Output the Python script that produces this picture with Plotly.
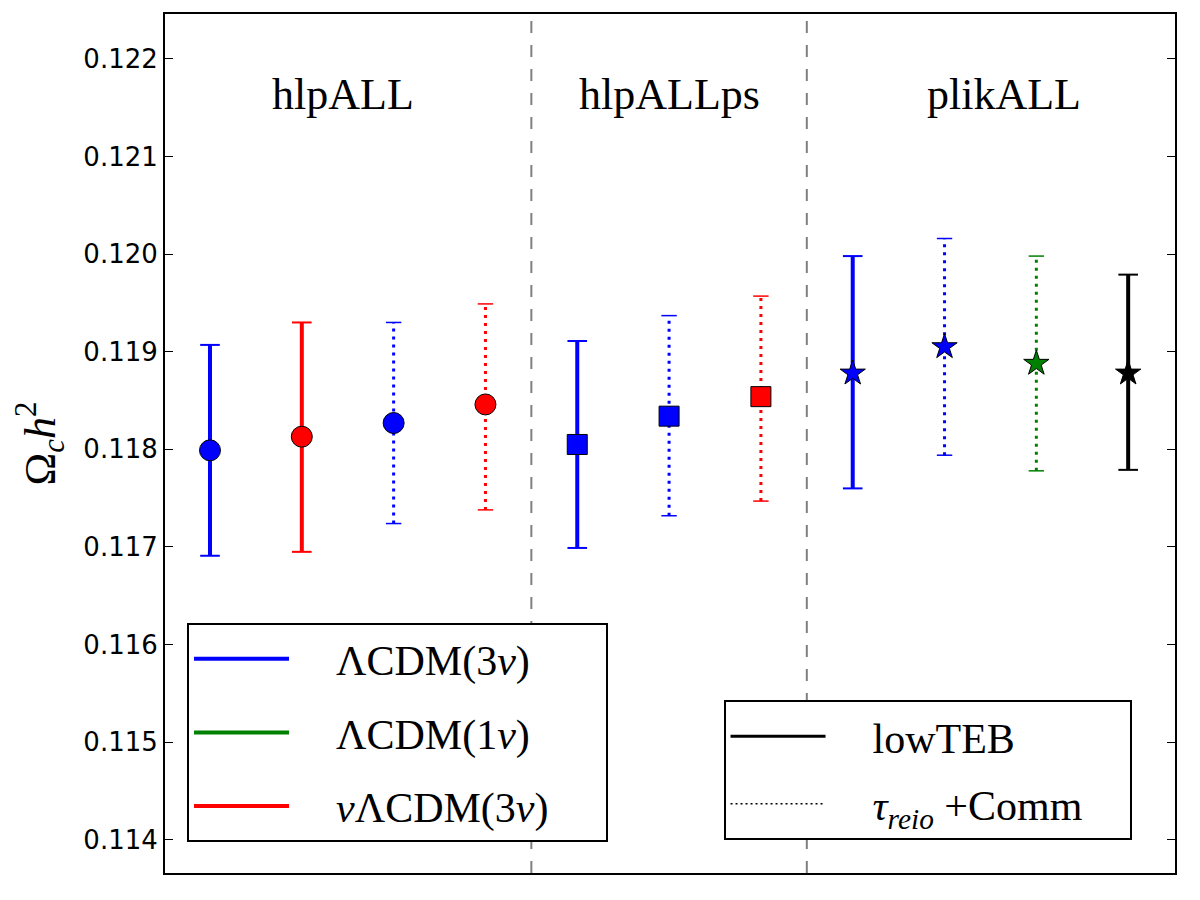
import plotly.graph_objects as go

# ---------------- data ----------------
x_pos = [0, 1, 2, 3, 4, 5, 6, 7, 8, 9, 10]
centers = [0.11799, 0.11813, 0.11827, 0.11846, 0.11805, 0.11834, 0.11854,
           0.11878, 0.11905, 0.11888, 0.11878]
upper = [0.11907, 0.11930, 0.11930, 0.11949, 0.11911, 0.11937, 0.11957,
         0.11998, 0.12016, 0.11998, 0.11979]
lower = [0.11691, 0.11695, 0.11724, 0.11738, 0.11699, 0.11732, 0.11747,
         0.11760, 0.11794, 0.11778, 0.11779]
colors = ["#0000ff", "#ff0000", "#0000ff", "#ff0000", "#0000ff", "#0000ff", "#ff0000",
          "#0000ff", "#0000ff", "#008000", "#000000"]
symbols = ["circle", "circle", "circle", "circle", "square", "square", "square",
           "star", "star", "star", "star"]
styles = ["solid", "solid", "dot", "dot", "solid", "dot", "dot",
          "solid", "dot", "dot", "solid"]

group_names = ["hlpALL", "hlpALLps", "plikALL"]
group_label_x = [1.45, 5.0, 8.65]
group_label_y = 0.12164
separators = [3.5, 6.5]

model_labels = ["ΛCDM(3<i>ν</i>)", "ΛCDM(1<i>ν</i>)", "<i>ν</i>ΛCDM(3<i>ν</i>)"]
model_colors = ["#0000ff", "#008000", "#ff0000"]
data_labels = ["lowTEB", "<i>τ<sub>reio</sub></i> +Comm"]
data_styles = ["solid", "dot"]

y_ticks = [0.114, 0.115, 0.116, 0.117, 0.118, 0.119, 0.120, 0.121, 0.122]

# ---------------- figure ----------------
fig = go.Figure()

serif = "Liberation Serif, Times New Roman, serif"
NB = "\u00a0"

for i in range(len(x_pos)):
    solid = styles[i] == "solid"
    lw = 4 if solid else 3
    dash = "solid" if solid else "3px,5px"
    # vertical error line
    fig.add_trace(go.Scatter(
        x=[x_pos[i], x_pos[i]], y=[lower[i], upper[i]], mode="lines",
        line=dict(color=colors[i], width=lw, dash=dash),
        showlegend=False, hoverinfo="skip"))
    # caps
    fig.add_trace(go.Scatter(
        x=[x_pos[i], x_pos[i]], y=[lower[i], upper[i]], mode="markers",
        marker=dict(symbol="line-ew", size=14 if solid else 11,
                    line=dict(color=colors[i], width=2 if solid else 1.5)),
        showlegend=False, hoverinfo="skip"))
    # central marker
    msize = {"circle": 21, "square": 20, "star": 19}[symbols[i]]
    fig.add_trace(go.Scatter(
        x=[x_pos[i]], y=[centers[i]], mode="markers",
        marker=dict(symbol=symbols[i], size=msize, color=colors[i],
                    line=dict(color="black", width=1)),
        showlegend=False))

# legend 1: models
for lab, col in zip(model_labels, model_colors):
    fig.add_trace(go.Scatter(
        x=[None], y=[None], mode="lines", name=NB * 4 + lab + NB * 5,
        line=dict(color=col, width=4), legend="legend", legendgroup=lab))

# legend 2: data sets
for lab, st in zip(data_labels, data_styles):
    fig.add_trace(go.Scatter(
        x=[None], y=[None], mode="lines", name=NB * 4 + lab + NB * 4,
        line=dict(color="black", width=3 if st == "solid" else 1.5,
                  dash="solid" if st == "solid" else "2px,3px"),
        legend="legend2", legendgroup=lab))

for s in separators:
    fig.add_vline(x=s, line=dict(color="#808080", width=2, dash="12px,12px"))

for name, gx in zip(group_names, group_label_x):
    fig.add_annotation(x=gx, y=group_label_y, text=name, showarrow=False,
                       font=dict(family=serif, size=44, color="black"),
                       xanchor="center", yanchor="middle")

fig.update_layout(
    width=1200, height=900,
    margin=dict(l=165, r=25, t=12, b=27),
    paper_bgcolor="white", plot_bgcolor="white",
    showlegend=True,
    legend=dict(x=0.0218, y=0.291, xanchor="left", yanchor="top",
                bgcolor="white", bordercolor="black", borderwidth=2,
                font=dict(family=serif, size=42, color="black"),
                traceorder="grouped", tracegroupgap=16, itemwidth=95),
    legend2=dict(x=0.553, y=0.201, xanchor="left", yanchor="top",
                 bgcolor="white", bordercolor="black", borderwidth=2,
                 font=dict(family=serif, size=42, color="black"),
                 traceorder="grouped", tracegroupgap=10, itemwidth=95),
    xaxis=dict(range=[-0.49, 10.51], showticklabels=False, ticks="",
               showgrid=False, zeroline=False, showline=True, mirror=True,
               linecolor="black", linewidth=2),
    yaxis=dict(range=[0.11366, 0.12246], tickvals=y_ticks, tickformat=".3f",
               ticks="inside", ticklen=8, tickwidth=1, tickcolor="black",
               showgrid=False, zeroline=False, showline=True, mirror="allticks",
               linecolor="black", linewidth=2,
               tickfont=dict(family="DejaVu Sans", size=26, color="black"),
               title=dict(text="Ω<sub><i>c</i></sub><i>h</i><sup>2</sup>",
                          font=dict(family=serif, size=44, color="black"),
                          standoff=14)),
)

fig.write_html("out.html")
